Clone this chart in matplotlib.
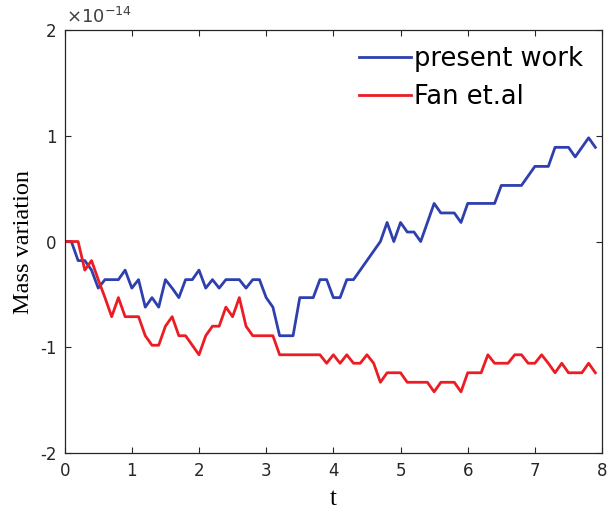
import numpy as np
import matplotlib
matplotlib.use("Agg")
import matplotlib.pyplot as plt
from matplotlib.ticker import FuncFormatter

plt.rcParams["axes.unicode_minus"] = False
plt.rcParams["font.family"] = ["DejaVu Sans"]

# time samples (dt = 0.1)
t = np.round(np.arange(80) * 0.1, 1)

# mass variation, in units of 1e-14
present_work = [
    0.00, 0.00, -0.18, -0.18, -0.27, -0.44, -0.36, -0.36, -0.36, -0.27,
    -0.44, -0.36, -0.62, -0.53, -0.62, -0.36, -0.44, -0.53, -0.36, -0.36,
    -0.27, -0.44, -0.36, -0.44, -0.36, -0.36, -0.36, -0.44, -0.36, -0.36,
    -0.53, -0.62, -0.89, -0.89, -0.89, -0.53, -0.53, -0.53, -0.36, -0.36,
    -0.53, -0.53, -0.36, -0.36, -0.27, -0.18, -0.09, 0.00, 0.18, 0.00,
    0.18, 0.09, 0.09, 0.00, 0.18, 0.36, 0.27, 0.27, 0.27, 0.18,
    0.36, 0.36, 0.36, 0.36, 0.36, 0.53, 0.53, 0.53, 0.53, 0.62,
    0.71, 0.71, 0.71, 0.89, 0.89, 0.89, 0.80, 0.89, 0.98, 0.89,
]
fan_et_al = [
    0.00, 0.00, 0.00, -0.27, -0.18, -0.36, -0.53, -0.71, -0.53, -0.71,
    -0.71, -0.71, -0.89, -0.98, -0.98, -0.80, -0.71, -0.89, -0.89, -0.98,
    -1.07, -0.89, -0.80, -0.80, -0.62, -0.71, -0.53, -0.80, -0.89, -0.89,
    -0.89, -0.89, -1.07, -1.07, -1.07, -1.07, -1.07, -1.07, -1.07, -1.15,
    -1.07, -1.15, -1.07, -1.15, -1.15, -1.07, -1.15, -1.33, -1.24, -1.24,
    -1.24, -1.33, -1.33, -1.33, -1.33, -1.42, -1.33, -1.33, -1.33, -1.42,
    -1.24, -1.24, -1.24, -1.07, -1.15, -1.15, -1.15, -1.07, -1.07, -1.15,
    -1.15, -1.07, -1.15, -1.24, -1.15, -1.24, -1.24, -1.24, -1.15, -1.24,
]
series_labels = ["present work", "Fan et.al"]
x_ticks = [0, 1, 2, 3, 4, 5, 6, 7, 8]
y_ticks = [-2, -1, 0, 1, 2]
y_scale_label = r"$\times10^{\mathsf{-14}}$"

fig = plt.figure(figsize=(6.10, 5.15), dpi=100)
ax = fig.add_axes([0.106, 0.120, 0.881, 0.822])

ax.plot(t, present_work, color="#2e3fae", lw=2.0, label=series_labels[0])
ax.plot(t, fan_et_al, color="#ec1c24", lw=2.0, label=series_labels[1])

ax.set_xlim(0, 8)
ax.set_ylim(-2, 2)
ax.set_xticks(x_ticks)
ax.set_yticks(y_ticks)
ax.yaxis.set_major_formatter(FuncFormatter(lambda v, p: f"{v:g}"))

# common exponent shown above the y axis
ax.text(0.002, 1.006, y_scale_label, transform=ax.transAxes,
        fontsize=13, color="#404040", ha="left", va="bottom")

ax.tick_params(direction="in", top=True, right=True, length=4, width=0.8,
               labelsize=12, colors="#262626", pad=6)
for s in ax.spines.values():
    s.set_color("#262626")
    s.set_linewidth(0.9)

ax.set_xlabel("t", family="Liberation Serif", fontsize=18, labelpad=6)
ax.set_ylabel("Mass variation", family="Liberation Serif", fontsize=17.5,
              labelpad=4)

ax.legend(loc="upper left", bbox_to_anchor=(0.548, 0.962), frameon=False,
          fontsize=18.5, handlelength=2.0, handletextpad=0.15,
          borderpad=0, borderaxespad=0, labelspacing=0.45)

fig.savefig("out.png", dpi=100)
